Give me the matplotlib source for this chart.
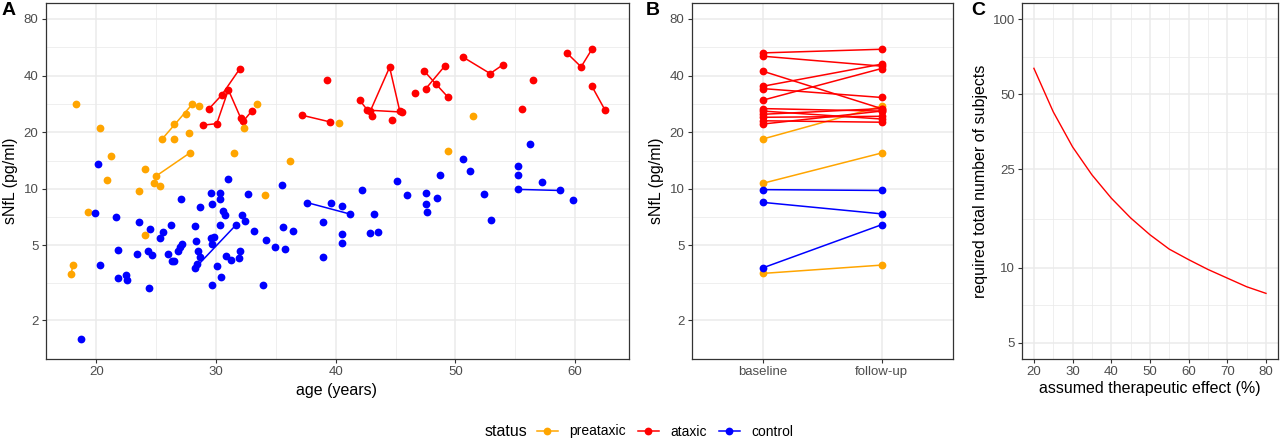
import matplotlib
matplotlib.use('Agg')
import matplotlib.pyplot as plt
from matplotlib.lines import Line2D
from matplotlib.ticker import FixedLocator, NullFormatter

plt.rcParams['font.family'] = ['Liberation Sans', 'DejaVu Sans']

ORANGE, RED, BLUE = '#FFA500', '#FF0000', '#0000FF'
GRID = '#EBEBEB'
TICK = '#4D4D4D'

# ---- panel A: sNfL vs age ----
# single visits
pre_age = [18.3, 20.3, 21.2, 20.9, 24.1, 23.6, 24.8, 25.3, 26.5, 27.5, 26.5, 27.7,
           28.6, 31.5, 32.3, 33.4, 34.1, 36.2, 40.3, 49.4, 51.5, 19.3, 24.1]
pre_nfl = [28.4, 21.1, 14.9, 11.2, 12.8, 9.76, 10.8, 10.4, 22.1, 25.0, 18.4, 19.7,
           27.6, 15.5, 21.0, 28.1, 9.3, 14.0, 22.3, 15.9, 24.5, 7.5, 5.67]
# subjects with repeated visits
pre_track_age = [[25.0, 27.8], [25.5, 28.0], [17.9, 18.05]]
pre_track_nfl = [[11.7, 15.5], [18.4, 28.1], [3.54, 3.95]]

atx_age = [39.3, 43.0, 44.7, 46.6, 55.6, 56.5]
atx_nfl = [37.8, 24.5, 23.3, 32.5, 26.7, 38.1]
atx_track_age = [[28.89, 30.06, 31.03, 32.06], [29.43, 30.47, 32.0], [32.28, 32.98],
                 [37.2, 39.5], [42.0, 42.65, 45.5], [42.9, 44.5, 45.35],
                 [47.4, 48.4, 49.4], [47.5, 49.1], [50.6, 52.9, 54.0],
                 [59.3, 60.5, 61.4], [61.4, 62.5]]
atx_track_nfl = [[21.8, 22.2, 33.6, 23.8], [26.7, 31.5, 43.6], [22.9, 25.9],
                 [24.6, 22.7], [29.6, 26.2, 25.6], [26.0, 44.3, 25.9],
                 [42.2, 35.9, 30.6], [33.9, 44.9], [50.3, 41.0, 45.8],
                 [52.8, 44.5, 55.2], [35.1, 26.2]]

ctl_age = [20.14, 31.0, 27.1, 29.56, 30.33, 30.36, 32.7, 29.67, 28.66, 19.9, 21.65,
           30.56, 30.78, 32.15, 32.45, 23.54, 26.2, 28.24, 30.33, 33.2, 24.5, 25.55,
           25.35, 27.16, 27.0, 26.85, 28.3, 29.56, 29.8, 29.7, 21.84, 23.43, 24.32,
           24.68, 26.0, 26.3, 26.5, 28.5, 28.67, 30.86, 31.25, 31.98, 31.95, 20.3,
           30.06, 28.45, 21.8, 22.5, 22.6, 30.4, 24.4, 29.7, 33.9, 18.7, 35.5, 35.6,
           36.4, 34.9, 35.8, 34.15, 38.9, 38.9, 39.6, 40.5, 40.5, 40.5, 42.2, 43.2,
           42.9, 43.5, 45.1, 45.97, 47.5, 47.5, 47.6, 48.5, 48.7, 50.6, 51.2, 52.4,
           53.0, 55.2, 55.2, 56.2, 57.2, 59.8]
ctl_nfl = [13.5, 11.3, 8.78, 9.52, 9.45, 8.82, 9.4, 8.29, 7.96, 7.4, 7.07,
           7.62, 7.25, 7.25, 6.73, 6.63, 6.39, 6.34, 6.44, 5.96, 6.09, 5.9,
           5.45, 5.09, 4.91, 4.69, 5.25, 5.49, 5.51, 5.1, 4.73, 4.52, 4.69,
           4.44, 4.48, 4.15, 4.15, 4.69, 4.32, 4.39, 4.16, 4.69, 4.3, 3.92,
           3.9, 3.97, 3.37, 3.49, 3.27, 3.38, 2.96, 3.07, 3.09, 1.59, 10.5, 6.26,
           5.98, 4.88, 4.79, 5.34, 6.68, 4.35, 8.45, 8.12, 5.72, 5.13, 9.84, 7.31,
           5.84, 5.91, 10.95, 9.26, 9.45, 8.29, 7.49, 8.93, 11.8, 14.4, 12.4, 9.34,
           6.79, 13.2, 11.8, 17.3, 10.85, 8.68]
ctl_track_age = [[28.24, 31.7], [37.6, 41.2], [55.2, 58.7]]
ctl_track_nfl = [[3.78, 6.46], [8.45, 7.34], [9.93, 9.8]]

# ---- panel B: baseline vs follow-up ----
visits = ['baseline', 'follow-up']
pre_base = [18.4, 10.7, 3.55]
pre_fup = [27.5, 15.5, 3.93]
atx_base = [52.8, 50.7, 42.2, 35.1, 34.1, 29.6, 26.7, 25.9, 24.9, 24.0, 23.0, 22.1]
atx_fup = [55.2, 44.9, 26.7, 46.0, 30.6, 43.6, 25.9, 23.5, 26.7, 24.3, 22.6, 25.9]
ctl_base = [9.9, 8.47, 3.8]
ctl_fup = [9.8, 7.36, 6.44]

# ---- panel C: sample size ----
effect = [20, 25, 30, 35, 40, 45, 50, 55, 60, 65, 70, 75, 80]
n_subjects = [63.6, 42.5, 30.7, 23.7, 19.1, 15.9, 13.6, 11.9, 10.8, 9.86, 9.1, 8.4, 7.9]


def style(ax, xmaj, xmin, ymaj, ymin):
    ax.set_facecolor('white')
    for s in ax.spines.values():
        s.set_color('#333333')
        s.set_linewidth(0.9)
    if xmaj is not None:
        ax.xaxis.set_major_locator(FixedLocator(xmaj))
    ax.xaxis.set_minor_locator(FixedLocator(xmin))
    ax.yaxis.set_major_locator(FixedLocator(ymaj))
    ax.yaxis.set_minor_locator(FixedLocator(ymin))
    ax.yaxis.set_major_formatter(matplotlib.ticker.FixedFormatter([str(v) for v in ymaj]))
    ax.yaxis.set_minor_formatter(NullFormatter())
    ax.grid(which='major', color=GRID, lw=1.1)
    ax.grid(which='minor', color=GRID, lw=0.55)
    ax.set_axisbelow(True)
    ax.tick_params(which='major', length=2.75, width=0.8, color='#333333',
                   labelsize=9.5, labelcolor=TICK, pad=2.5)
    ax.tick_params(which='minor', length=0)


fig = plt.figure(figsize=(12.8, 4.41), dpi=100)
W, H = 1280, 441


def box(l, r, t, b):
    return [l / W, 1 - b / H, (r - l) / W, (b - t) / H]


ms = 5.6
lw = 1.1
nfl_ticks = [2, 5, 10, 20, 40, 80]
nfl_minor = [3.16, 7.07, 14.14, 28.28, 56.57]

# A
axA = fig.add_axes(box(45.7, 629, 3.3, 359))
axA.set_yscale('log')
for ta, tn in zip(pre_track_age, pre_track_nfl):
    axA.plot(ta, tn, color=ORANGE, lw=lw, marker='o', ms=ms, mec='none')
for ta, tn in zip(atx_track_age, atx_track_nfl):
    axA.plot(ta, tn, color=RED, lw=lw, marker='o', ms=ms, mec='none')
for ta, tn in zip(ctl_track_age, ctl_track_nfl):
    axA.plot(ta, tn, color=BLUE, lw=lw, marker='o', ms=ms, mec='none')
axA.plot(pre_age, pre_nfl, 'o', color=ORANGE, ms=ms, mec='none')
axA.plot(atx_age, atx_nfl, 'o', color=RED, ms=ms, mec='none')
axA.plot(ctl_age, ctl_nfl, 'o', color=BLUE, ms=ms, mec='none')
axA.set_xlim(15.77, 64.5)
axA.set_ylim(1.245, 96.9)
style(axA, [20, 30, 40, 50, 60], [25, 35, 45, 55], nfl_ticks, nfl_minor)

# B
axB = fig.add_axes(box(691.7, 952.7, 3.3, 359))
axB.set_yscale('log')
for base, fup, c in [(pre_base, pre_fup, ORANGE), (atx_base, atx_fup, RED),
                     (ctl_base, ctl_fup, BLUE)]:
    for b0, f0 in zip(base, fup):
        axB.plot([1, 2], [b0, f0], color=c, lw=lw, marker='o', ms=ms, mec='none')
axB.set_xlim(0.4, 2.6)
axB.set_ylim(1.245, 96.9)
style(axB, [1, 2], [], nfl_ticks, nfl_minor)
axB.set_xticklabels(visits)

# C
axC = fig.add_axes(box(1022.3, 1277.6, 3.3, 359))
axC.set_yscale('log')
axC.plot(effect, n_subjects, color=RED, lw=1.0)
axC.set_xlim(17, 83)
axC.set_ylim(4.3, 116.2)
style(axC, [20, 30, 40, 50, 60, 70, 80], [25, 35, 45, 55, 65, 75],
      [5, 10, 25, 50, 100], [7.07, 15.81, 35.36, 70.71])

# axis titles
fs_title = 11.5
fig.text(337 / W, 1 - 391 / H, 'age (years)', ha='center', va='center', fontsize=fs_title)
fig.text(1150 / W, 1 - 389 / H, 'assumed therapeutic effect (%)', ha='center',
         va='center', fontsize=fs_title)
fig.text(11 / W, 1 - 181 / H, 'sNfL (pg/ml)', rotation=90, ha='center', va='center',
         fontsize=fs_title)
fig.text(656.5 / W, 1 - 181 / H, 'sNfL (pg/ml)', rotation=90, ha='center', va='center',
         fontsize=fs_title)
fig.text(980 / W, 1 - 181 / H, 'required total number of subjects', rotation=90,
         ha='center', va='center', fontsize=fs_title)

# panel letters
for x, lab in [(1.5, 'A'), (646, 'B'), (971, 'C')]:
    fig.text(x / W, 1 - 2 / H, lab, ha='left', va='top', fontsize=14, fontweight='bold')

# legend
fig.text(485 / W, 1 - 431.5 / H, 'status', ha='left', va='center', fontsize=11.5)
handles = [Line2D([], [], color=c, lw=lw, marker='o', ms=ms, mec='none')
           for c in (ORANGE, RED, BLUE)]
fig.legend(handles, ['preataxic', 'ataxic', 'control'], loc='center left',
           bbox_to_anchor=(537 / W, 1 - 431.5 / H), ncol=3, frameon=False,
           fontsize=10, handlelength=1.5, handletextpad=0.85, columnspacing=0.85,
           borderpad=0, borderaxespad=0)

fig.savefig('out.png', dpi=100, facecolor='white')
